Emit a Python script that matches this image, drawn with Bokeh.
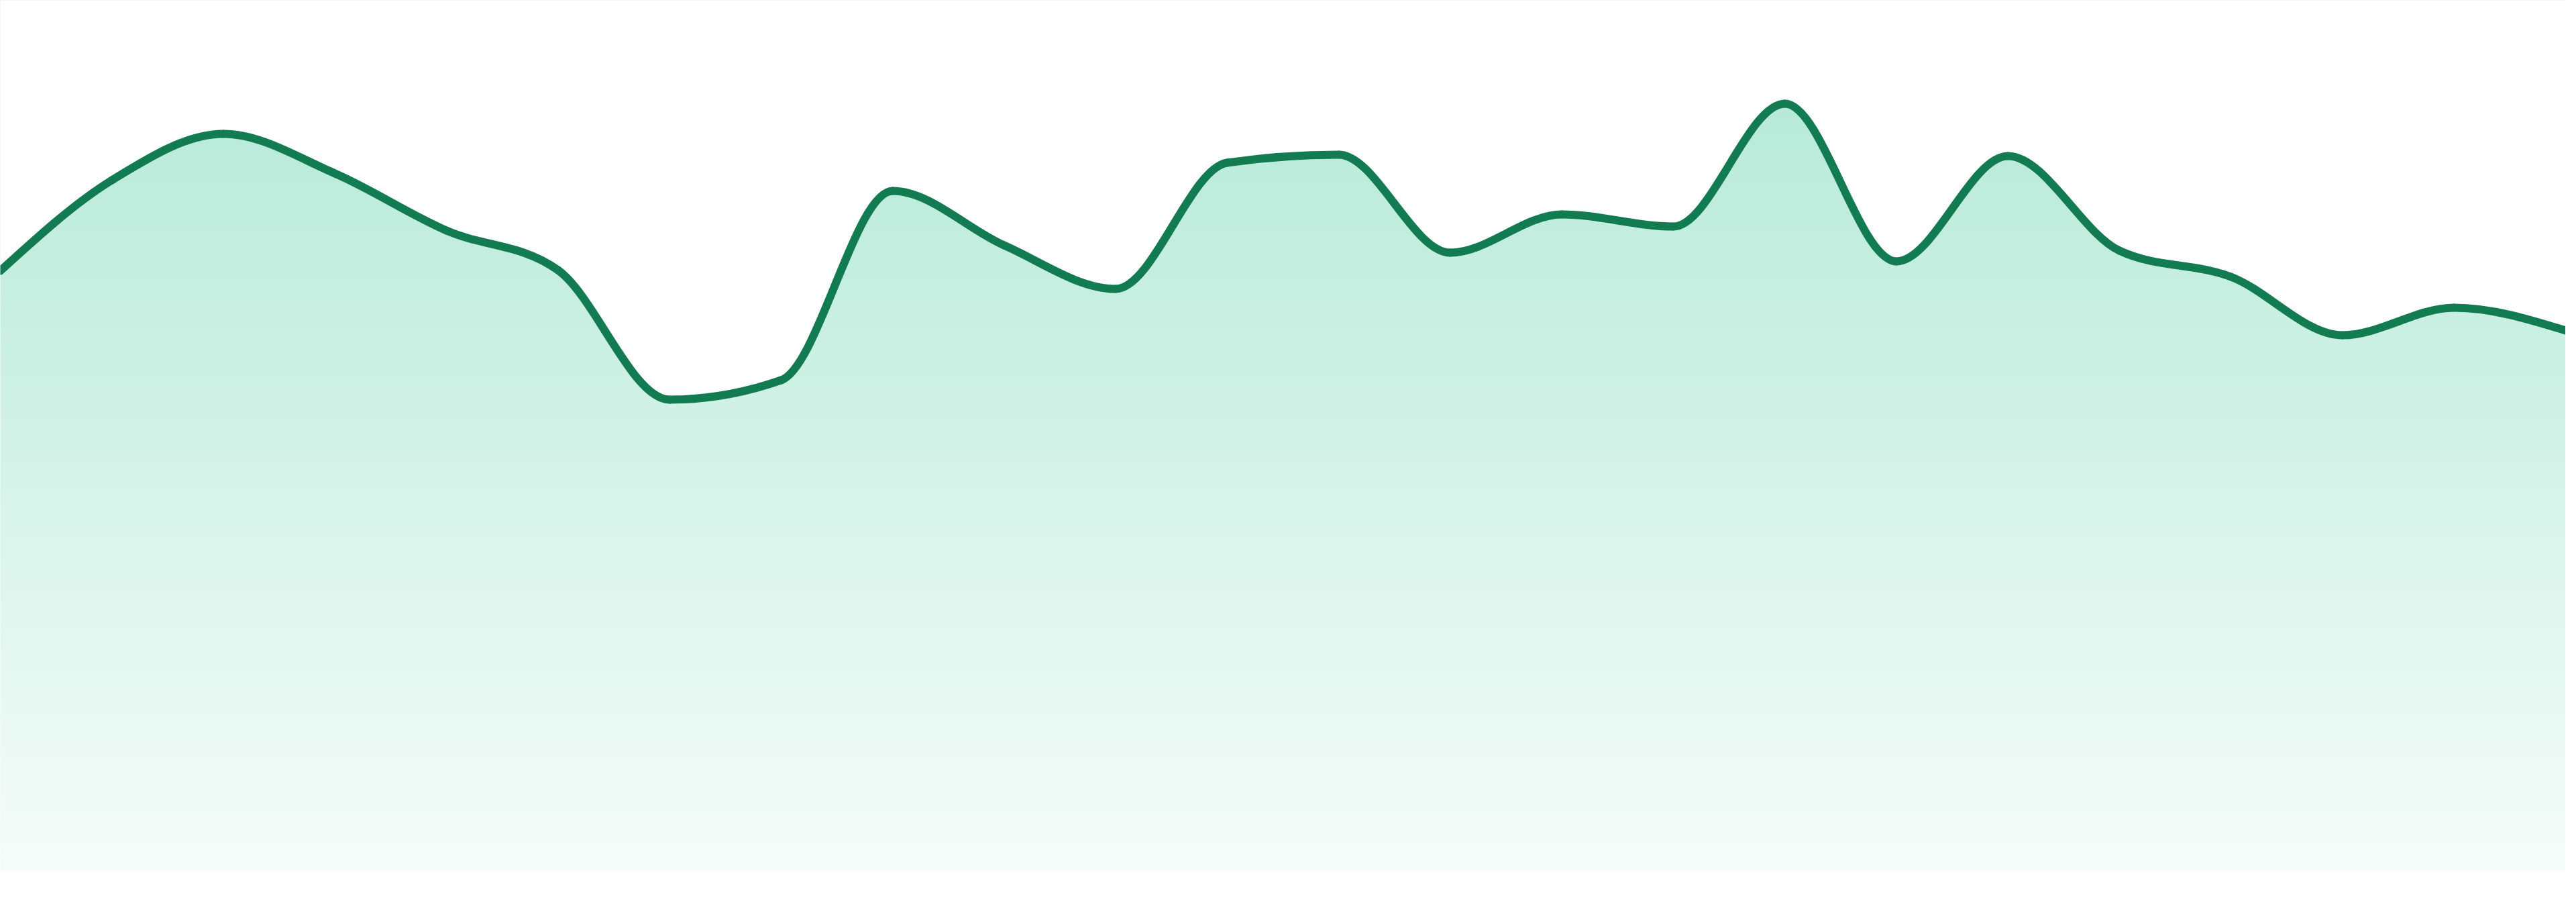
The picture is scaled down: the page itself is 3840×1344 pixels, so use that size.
import numpy as np
from bokeh.plotting import figure
from bokeh.models import Range1d
from bokeh.embed import file_html
from bokeh.resources import INLINE

# ---- data ----
idx = list(range(24))
values = [89.4, 102.9, 109.8, 103.9, 95.4, 89.5, 70.2, 73.1, 101.3, 93.2,
          86.7, 105.5, 106.7, 92.1, 97.8, 96.0, 114.3, 90.8, 106.5, 92.4,
          88.5, 79.8, 83.9, 80.5]

LINE_COLOR = "#127b51"
FILL_RGB = (16, 185, 129)
Y_MIN, Y_MAX = -3.1, 129.7


def monotone_beziers(x, y):
    """d3 curveMonotoneX control points for each segment."""
    x = np.asarray(x, float)
    y = np.asarray(y, float)
    n = len(x)
    h = np.diff(x)
    s = np.diff(y) / h
    sgn = lambda v: -1.0 if v < 0 else 1.0
    t = np.zeros(n)
    for i in range(1, n - 1):
        p = (s[i - 1] * h[i] + s[i] * h[i - 1]) / (h[i - 1] + h[i])
        t[i] = (sgn(s[i - 1]) + sgn(s[i])) * min(abs(s[i - 1]), abs(s[i]), 0.5 * abs(p))
    t[0] = (3 * s[0] - t[1]) / 2
    t[-1] = (3 * s[-1] - t[-2]) / 2
    x0, x1 = x[:-1], x[1:]
    y0, y1 = y[:-1], y[1:]
    cx0 = x0 + h / 3
    cy0 = y0 + t[:-1] * h / 3
    cx1 = x1 - h / 3
    cy1 = y1 - t[1:] * h / 3
    return x0, y0, x1, y1, cx0, cy0, cx1, cy1, t


bx0, by0, bx1, by1, bcx0, bcy0, bcx1, bcy1, tan = monotone_beziers(idx, values)

# sample the same curve for the filled area outline
us = np.linspace(0, 1, 60)
cx, cy = [], []
for k in range(len(bx0)):
    u = us if k == 0 else us[1:]
    a = (1 - u) ** 3
    b = 3 * (1 - u) ** 2 * u
    c = 3 * (1 - u) * u ** 2
    d = u ** 3
    cx.extend(a * bx0[k] + b * bcx0[k] + c * bcx1[k] + d * bx1[k])
    cy.extend(a * by0[k] + b * bcy0[k] + c * bcy1[k] + d * by1[k])
# extend the outline slightly past both frame edges (along end tangents)
cx = np.concatenate([[idx[0] - 0.5], cx, [idx[-1] + 0.5]])
cy = np.concatenate([[values[0] - 0.5 * tan[0]], cy, [values[-1] + 0.5 * tan[-1]]])

p = figure(width=3824, height=1328, output_backend="svg", toolbar_location=None,
           x_range=Range1d(0, 23), y_range=Range1d(Y_MIN, Y_MAX),
           min_border=0, background_fill_color="white", border_fill_color="white")
p.axis.visible = False
p.grid.visible = False
p.outline_line_color = None

# vertical gradient image (from 0 up past top of plot), wider than the frame
rows = 400
img = np.zeros((rows, 2), dtype=np.uint32)
view = img.view(dtype=np.uint8).reshape((rows, 2, 4))
vals = np.linspace(0, Y_MAX + 5, rows)
alpha = np.clip(0.04 + (0.30 - 0.04) * vals / 114.5, 0, 0.32)
for ch in range(3):
    col = 255 - alpha * (255 - FILL_RGB[ch])
    view[:, :, ch] = np.round(col)[:, None].astype(np.uint8)
view[:, :, 3] = 255
p.image_rgba(image=[img], x=-1, y=0, dw=25, dh=Y_MAX + 5)

# white mask above the curve
p.varea(x=cx, y1=cy, y2=np.full_like(cy, Y_MAX + 10), fill_color="white", fill_alpha=1.0)

# the line
p.bezier(x0=bx0, y0=by0, x1=bx1, y1=by1, cx0=bcx0, cy0=bcy0, cx1=bcx1, cy1=bcy1,
         line_color=LINE_COLOR, line_width=12, line_cap="round")

open("out.html", "w").write(file_html(p, INLINE))
